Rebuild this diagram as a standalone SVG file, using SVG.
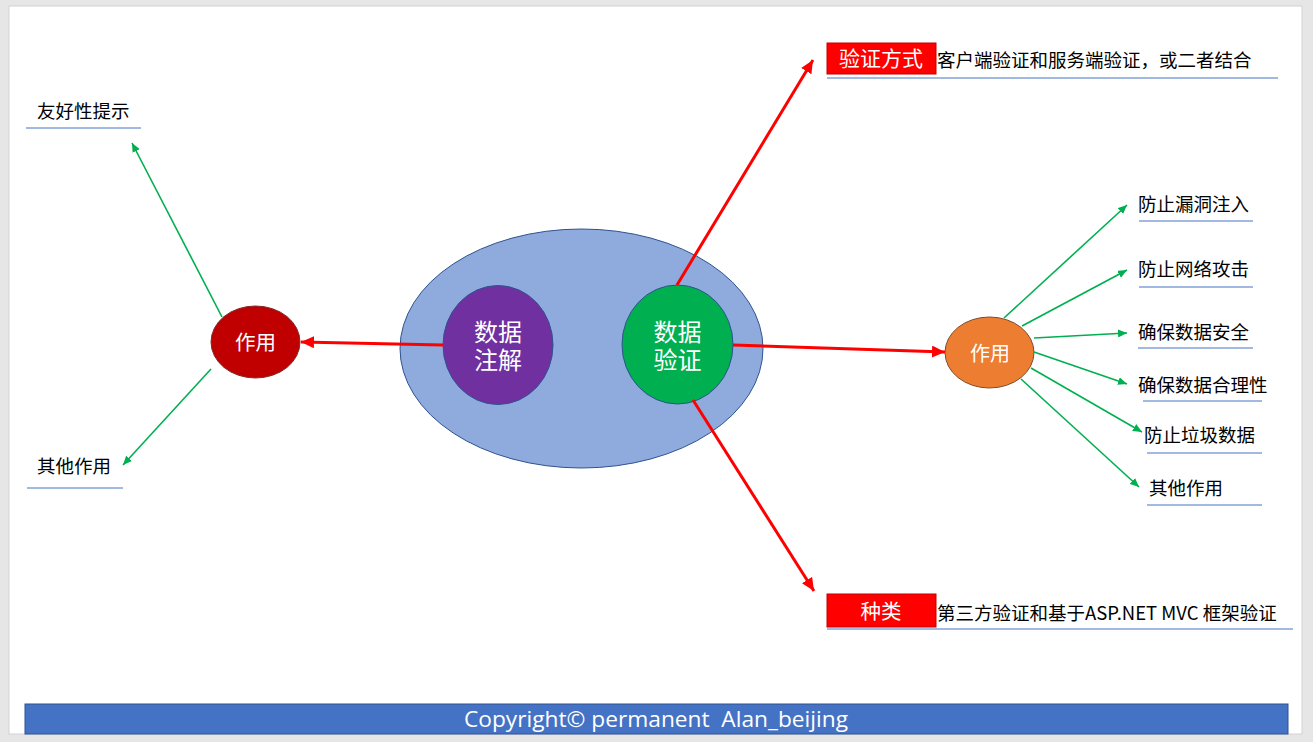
<svg xmlns="http://www.w3.org/2000/svg" width="1313" height="742" viewBox="0 0 1313 742">
<style>
text{font-family:"Microsoft YaHei","Noto Sans CJK SC","Noto Sans",sans-serif;}
.lbl{font-size:18.5px;fill:#000;}
.wt{fill:#fff;text-anchor:middle;}
.ul{stroke:#4472c4;stroke-width:1;}
.red{stroke:#ff0000;stroke-width:3;fill:none;marker-end:url(#ra);}
.red0{stroke:#ff0000;stroke-width:3;fill:none;}
.grn{stroke:#00b050;stroke-width:1.6;fill:none;marker-end:url(#ga);}
</style>
<defs>
<marker id="ra" markerUnits="userSpaceOnUse" markerWidth="14" markerHeight="12" refX="13" refY="6" orient="auto"><path d="M0,0 L13,6 L0,12 z" fill="#ff0000"/></marker>
<marker id="ga" markerUnits="userSpaceOnUse" markerWidth="10" markerHeight="8" refX="9" refY="4" orient="auto"><path d="M0,0 L9,4 L0,8 z" fill="#00b050"/></marker>
</defs>
<rect x="0" y="0" width="1313" height="742" fill="#e6e6e6"/>
<rect x="9" y="6" width="1293" height="728" fill="#fff" stroke="#d2d2d2" stroke-width="1"/>

<g id="outer">
<ellipse cx="581.5" cy="348.5" rx="181.5" ry="119.5" fill="#8faadc" stroke="#2f528f" stroke-width="1"/>
</g>
<g id="annotation">
<ellipse cx="498" cy="345" rx="55" ry="59.5" fill="#7030a0" stroke="#2f528f" stroke-width="1"/>
<text class="wt" font-size="24"><tspan x="498" y="341">数据</tspan><tspan x="498" y="369">注解</tspan></text>
</g>
<g id="validation">
<ellipse cx="677.5" cy="344.5" rx="55.5" ry="59.5" fill="#00b050" stroke="#2f528f" stroke-width="1"/>
<text class="wt" font-size="24"><tspan x="677.5" y="341">数据</tspan><tspan x="677.5" y="369">验证</tspan></text>
</g>
<g id="role-left">
<ellipse cx="255.5" cy="342" rx="44.5" ry="36" fill="#c00000" stroke="#7f2a2a" stroke-width="1"/>
<text class="wt" x="255.5" y="350" font-size="20.5">作用</text>
</g>
<g id="role-right">
<ellipse cx="989.5" cy="352.5" rx="44.5" ry="35.5" fill="#ed7d31" stroke="#7f4a2a" stroke-width="1"/>
<text class="wt" x="990" y="361" font-size="20">作用</text>
</g>

<g id="connectors">
<line class="red" x1="443" y1="345" x2="301" y2="342"/>
<line class="red" x1="733" y1="345" x2="945" y2="352"/>
<line class="red" x1="677" y1="285" x2="813" y2="60"/>
<line class="red" x1="693" y1="400" x2="814" y2="591"/>
<line class="grn" x1="222" y1="317" x2="132" y2="143"/>
<line class="grn" x1="211" y1="369" x2="123" y2="465"/>
<line class="grn" x1="1004" y1="318" x2="1127" y2="205"/>
<line class="grn" x1="1022" y1="326" x2="1127" y2="270"/>
<line class="grn" x1="1034" y1="338" x2="1127" y2="333"/>
<line class="grn" x1="1034" y1="352" x2="1127" y2="384"/>
<line class="grn" x1="1031" y1="368" x2="1142" y2="432"/>
<line class="grn" x1="1021" y1="379" x2="1139" y2="487"/>
</g>

<g id="friendly">
<text class="lbl" x="37" y="118">友好性提示</text>
<line class="ul" x1="26" y1="128" x2="141" y2="128"/>
</g>
<g id="other-left">
<text class="lbl" x="37" y="473">其他作用</text>
<line class="ul" x1="27" y1="488" x2="123" y2="488"/>
</g>

<g id="method">
<rect x="827" y="43" width="109" height="31" fill="#ff0000" stroke="#c00000" stroke-width="1"/>
<text class="wt" x="881" y="66" font-size="21">验证方式</text>
<text class="lbl" x="937" y="67">客户端验证和服务端验证，或二者结合</text>
<line class="ul" x1="827" y1="78" x2="1278" y2="78"/>
</g>
<g id="kind">
<rect x="827" y="594" width="109" height="33" fill="#ff0000" stroke="#c00000" stroke-width="1"/>
<text class="wt" x="881" y="619" font-size="20.5">种类</text>
<text class="lbl" x="937" y="620">第三方验证和基于ASP.NET MVC 框架验证</text>
<line class="ul" x1="827" y1="629" x2="1293" y2="629"/>
</g>

<g id="r1">
<text class="lbl" x="1138" y="211">防止漏洞注入</text>
<line class="ul" x1="1139" y1="221" x2="1253" y2="221"/>
</g>
<g id="r2">
<text class="lbl" x="1138" y="276">防止网络攻击</text>
<line class="ul" x1="1139" y1="287" x2="1253" y2="287"/>
</g>
<g id="r3">
<text class="lbl" x="1138" y="339">确保数据安全</text>
<line class="ul" x1="1138" y1="348" x2="1253" y2="348"/>
</g>
<g id="r4">
<text class="lbl" x="1138" y="392">确保数据合理性</text>
<line class="ul" x1="1143" y1="401" x2="1262" y2="401"/>
</g>
<g id="r5">
<text class="lbl" x="1144" y="442">防止垃圾数据</text>
<line class="ul" x1="1147" y1="453" x2="1262" y2="453"/>
</g>
<g id="r6">
<text class="lbl" x="1149" y="495">其他作用</text>
<line class="ul" x1="1147" y1="505" x2="1262" y2="505"/>
</g>

<g id="footer">
<rect x="25" y="704" width="1263" height="30" fill="#4472c4" stroke="#2f528f" stroke-width="1"/>
<text x="464" y="727" font-size="22" fill="#fff" textLength="384" lengthAdjust="spacingAndGlyphs" style="font-family:'Open Sans','Noto Sans',sans-serif;white-space:pre">Copyright© permanent  Alan_beijing</text>
</g>
</svg>
